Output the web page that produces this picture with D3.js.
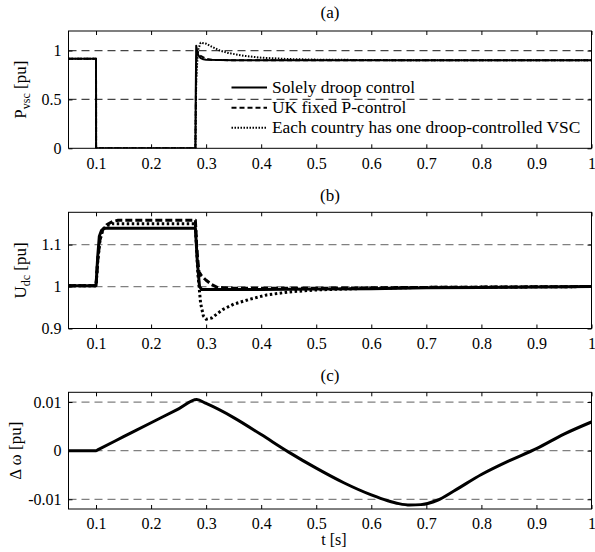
<!DOCTYPE html>
<html><head><meta charset="utf-8">
<script src="https://cdn.jsdelivr.net/npm/d3@7"></script>
<style>
body{margin:0;background:#fff;}
svg text{font-family:"Liberation Serif","Times New Roman","DejaVu Serif",serif !important;fill:#000;}
</style></head>
<body><svg id="c" width="595" height="552"></svg>
<script>
// ---- data ----
const xTicks = [0.1,0.2,0.3,0.4,0.5,0.6,0.7,0.8,0.9,1];
const xTickLabels = ["0.1","0.2","0.3","0.4","0.5","0.6","0.7","0.8","0.9","1"];
const legendLabels = ["Solely droop control","UK fixed P-control","Each country has one droop-controlled VSC"];

// panel (a) P_vsc
const aTicks = [0,0.5,1], aTickLabels = ["0","0.5","1"];
const aSolidT = [0.05,0.1,0.1001,0.2805,0.2812,0.282,0.2835,0.286,0.29,0.295,0.3,0.35,1.0];
const aSolidV = [0.915,0.915,0,0,0.6,1.05,1.0,0.95,0.922,0.91,0.905,0.9,0.9];
const aDashT = [0.05,0.1,0.1001,0.2805,0.2815,0.283,0.286,0.29,0.295,0.3,0.31,0.35,1.0];
const aDashV = [0.915,0.915,0,0,0.6,1.0,0.97,0.945,0.93,0.915,0.905,0.9,0.9];
const aDotT = [0.05,0.1,0.1001,0.2805,0.282,0.285,0.29,0.3,0.31,0.325,0.34,0.37,0.4,0.45,0.5,0.6,0.7,1.0];
const aDotV = [0.915,0.915,0,0,0.7,1.0,1.08,1.07,1.04,1.0,0.975,0.945,0.927,0.913,0.907,0.903,0.9,0.9];

// panel (b) U_dc
const bTicks = [0.9,1,1.1], bTickLabels = ["0.9","1","1.1"];
const bSolidT = [0.05,0.1,0.103,0.106,0.11,0.115,0.2805,0.284,0.288,0.292,0.3,0.4,0.5,0.6,0.7,0.8,0.9,1.0];
const bSolidV = [1.002,1.002,1.07,1.12,1.134,1.139,1.139,1.06,1.0,0.993,0.993,0.993,0.994,0.995,0.997,0.998,0.999,1.0];
const bDashT = [0.05,0.1,0.103,0.107,0.112,0.12,0.13,0.14,0.2805,0.283,0.287,0.292,0.3,0.31,0.32,0.35,0.5,0.7,1.0];
const bDashV = [1.002,1.002,1.06,1.11,1.135,1.148,1.155,1.158,1.158,1.09,1.035,1.025,1.015,1.005,0.998,0.996,0.996,0.998,1.0];
const bDotT = [0.05,0.1,0.103,0.107,0.112,0.12,0.13,0.2805,0.285,0.29,0.295,0.3,0.31,0.33,0.35,0.38,0.41,0.45,0.5,0.6,0.7,1.0];
const bDotV = [1.002,1.002,1.06,1.11,1.135,1.145,1.15,1.15,1.03,0.96,0.93,0.922,0.925,0.945,0.958,0.97,0.98,0.987,0.992,0.996,0.998,1.0];

// panel (c) delta omega
const cTicks = [-0.01,0,0.01], cTickLabels = ["-0.01","0","0.01"];
const cT = [0.05,0.1,0.103,0.15,0.2,0.25,0.283,0.3,0.35,0.4,0.45,0.5,0.55,0.6,0.63,0.65,0.67,0.69,0.72,0.75,0.8,0.85,0.9,0.95,1.0];
const cV = [0,0,0.00017,0.00287,0.00574,0.0086,0.0105,0.0097,0.0068,0.0033,-0.0003,-0.0036,-0.0066,-0.0091,-0.0103,-0.0109,-0.0112,-0.0111,-0.0102,-0.0083,-0.0049,-0.0021,0.0004,0.0034,0.0059];

// ---- layout ----
const FONT = '"Liberation Serif","Times New Roman","DejaVu Serif",serif';
const svg = d3.select("#c");
const x = d3.scaleLinear().domain([0.05,1]).range([68.5,591.5]);
const L = x.range()[0], R = x.range()[1];

function zip(t,v){return t.map((d,i)=>[d,v[i]]);}

function panel(id, title, yDomain, yRange, ticks, tickLabels, gridVals, gridColor, series, labelParts, labelX, titleY){
  const y = d3.scaleLinear().domain(yDomain).range(yRange);
  const top = yRange[1], bot = yRange[0];
  const g = svg.append("g");
  g.append("clipPath").attr("id","clip"+id).append("rect")
    .attr("x",L).attr("y",top).attr("width",R-L).attr("height",bot-top);
  g.selectAll(".grid").data(gridVals).enter().append("line")
    .attr("x1",L).attr("x2",R).attr("y1",d=>y(d)).attr("y2",d=>y(d))
    .attr("stroke",gridColor).attr("stroke-width",1.2).attr("stroke-dasharray","8,5");
  series.forEach(s=>{
    const line = d3.line().x(d=>x(d[0])).y(d=>y(d[1])).curve(s.curve||d3.curveLinear);
    g.append("path").attr("d",line(s.data)).attr("fill","none")
      .attr("stroke","#000").attr("stroke-width",s.w)
      .attr("stroke-dasharray",s.dash||null)
      .attr("stroke-linejoin","round")
      .attr("clip-path","url(#clip"+id+")");
  });
  const ax = g.append("g").attr("transform",`translate(0,${bot})`)
    .call(d3.axisBottom(x).tickValues(xTicks).tickSizeInner(-4).tickSizeOuter(0).tickPadding(9)
      .tickFormat((d,i)=>xTickLabels[i]));
  const axT = g.append("g").attr("transform",`translate(0,${top})`)
    .call(d3.axisTop(x).tickValues(xTicks).tickSizeInner(-4).tickSizeOuter(0).tickFormat(""));
  const ay = g.append("g").attr("transform",`translate(${L},0)`)
    .call(d3.axisLeft(y).tickValues(ticks).tickSizeInner(-4).tickSizeOuter(0).tickPadding(7)
      .tickFormat((d,i)=>tickLabels[i]));
  const ayR = g.append("g").attr("transform",`translate(${R},0)`)
    .call(d3.axisRight(y).tickValues(ticks).tickSizeInner(-4).tickSizeOuter(0).tickFormat(""));
  [ax,axT,ay,ayR].forEach(a=>{a.select(".domain").remove();
    a.attr("font-family",FONT);
    a.selectAll("line").attr("stroke","#000");
    a.selectAll("text").style("font-family",FONT).attr("font-size",16).attr("fill","#000");});
  g.append("rect").attr("x",L).attr("y",top).attr("width",R-L).attr("height",bot-top)
    .attr("fill","none").attr("stroke","#000").attr("stroke-width",1);
  g.append("text").attr("x",(L+R)/2).attr("y",titleY).attr("text-anchor","middle")
    .style("font-family",FONT).attr("font-size",17).text(title);
  const yl = g.append("text").attr("transform",`translate(${labelX},${(top+bot)/2}) rotate(-90)`)
    .attr("text-anchor","middle").style("font-family",FONT).attr("font-size",17);
  labelParts.forEach(p=>{
    const ts = yl.append("tspan").text(p.t);
    if(p.sub){ts.attr("font-size",12).attr("dy",4);}
    else if(p.after){ts.attr("dy",-4);}
  });
  return y;
}

panel("a","(a)",[0,1.2],[148.3,31],aTicks,aTickLabels,[0.5,1],"#444",[
  {data:zip(aSolidT,aSolidV),w:2},
  {data:zip(aDashT,aDashV),w:2,dash:"5,3"},
  {data:zip(aDotT,aDotV),w:2,dash:"1.5,1.5"}
],[{t:"P"},{t:"vsc",sub:true},{t:" [pu]",after:true}],26,18);

panel("b","(b)",[0.9,1.177],[328.5,212.3],bTicks,bTickLabels,[1,1.1],"#808080",[
  {data:zip(bSolidT,bSolidV),w:3},
  {data:zip(bDashT,bDashV),w:3,dash:"7,3"},
  {data:zip(bDotT,bDotV),w:3,dash:"2.5,2.5"}
],[{t:"U"},{t:"dc",sub:true},{t:" [pu]",after:true}],26,201);

panel("c","(c)",[-0.012,0.012],[509,392.3],cTicks,cTickLabels,[-0.01,0,0.01],"#808080",[
  {data:zip(cT,cV),w:3,curve:d3.curveMonotoneX}
],[{t:"Δ ω [pu]"}],21,381);

const legY = [87.5,107.7,127.7];
const legDash = [null,"5,3","1.5,1.5"];
legendLabels.forEach((lab,i)=>{
  svg.append("line").attr("x1",231.5).attr("x2",267).attr("y1",legY[i]).attr("y2",legY[i])
    .attr("stroke","#000").attr("stroke-width",2).attr("stroke-dasharray",legDash[i]);
  svg.append("text").attr("x",272).attr("y",legY[i]+5).style("font-family",FONT).attr("font-size",17.4).text(lab);
});

svg.append("text").attr("x",334).attr("y",545).attr("text-anchor","middle").style("font-family",FONT).attr("font-size",16).text("t [s]");
</script></body></html>
